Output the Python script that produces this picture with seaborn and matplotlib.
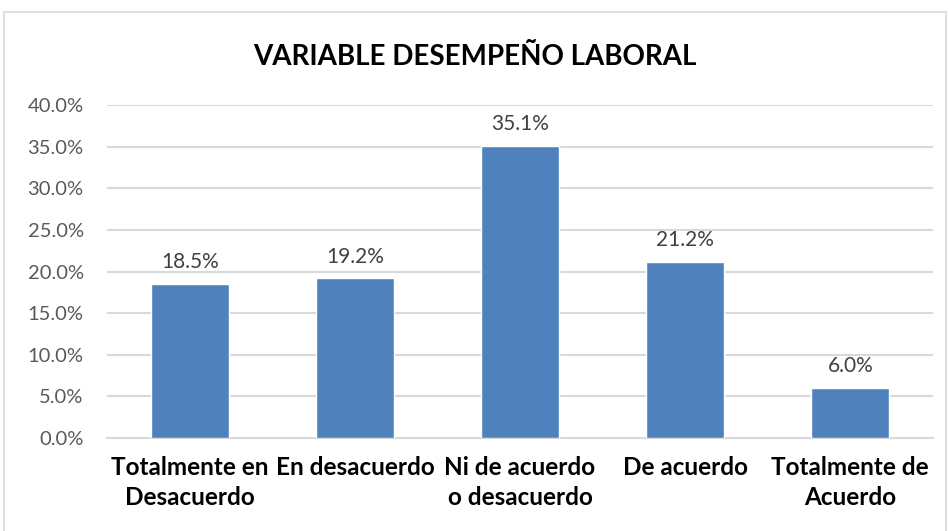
import numpy as np
import pandas as pd
import seaborn as sns
from matplotlib import pyplot as plt
from matplotlib.patches import Rectangle

categorias = ['Totalmente en\nDesacuerdo', 'En desacuerdo', 'Ni de acuerdo\no desacuerdo',
              'De acuerdo', 'Totalmente de\nAcuerdo']
porcentajes = [18.5, 19.2, 35.1, 21.2, 6.0]
y_ticks = [0, 5, 10, 15, 20, 25, 30, 35, 40]

df = pd.DataFrame({'categoria': categorias, 'porcentaje': porcentajes})

sns.set_style('white')
plt.rcParams['font.family'] = ['Lato', 'DejaVu Sans']

fig = plt.figure(figsize=(9.49, 5.31), dpi=100)
ax = fig.add_axes([0.113, 0.175, 0.870, 0.627])

sns.barplot(x='categoria', y='porcentaje', data=df, color='#4F81BD',
            width=0.47, ax=ax, zorder=3, saturation=1)

ax.set_ylim(0, 40)
ax.set_xlim(-0.5, len(categorias) - 0.5)
ax.set_yticks(y_ticks)
ax.set_yticklabels([f'{v:.1f}%' for v in y_ticks], fontsize=14.5, color='#595959')
ax.yaxis.grid(True, color='#D9D9D9', linewidth=1.5, zorder=0)
ax.tick_params(axis='y', length=0, pad=17)

# ticks at category boundaries, labels centred
ax.set_xticks(np.arange(len(categorias)))
ax.set_xticklabels(categorias, fontsize=17.5, fontweight='bold', color='black',
                   linespacing=1.35)
ax.tick_params(axis='x', length=0, pad=13)
ax.set_xticks(np.arange(-0.5, len(categorias)), minor=True)
ax.tick_params(axis='x', which='minor', length=6, color='#D9D9D9', width=1.5)

for s in ['top', 'right', 'left']:
    ax.spines[s].set_visible(False)
ax.spines['bottom'].set_color('#D9D9D9')
ax.spines['bottom'].set_linewidth(1.5)

for i, v in enumerate(porcentajes):
    ax.text(i, v + 1.4, f'{v:.1f}%', ha='center', va='bottom', fontsize=15, color='#404040')

ax.set_xlabel('')
ax.set_ylabel('')

fig.text(0.5, 0.893, 'VARIABLE DESEMPEÑO LABORAL', ha='center', va='center',
         fontsize=20, fontweight='bold', color='black')

fig.patches.append(Rectangle((0.004, -0.01), 0.993, 0.987, transform=fig.transFigure,
                             fill=False, edgecolor='#D9D9D9', linewidth=1.2))

fig.savefig('out.png', dpi=100)
